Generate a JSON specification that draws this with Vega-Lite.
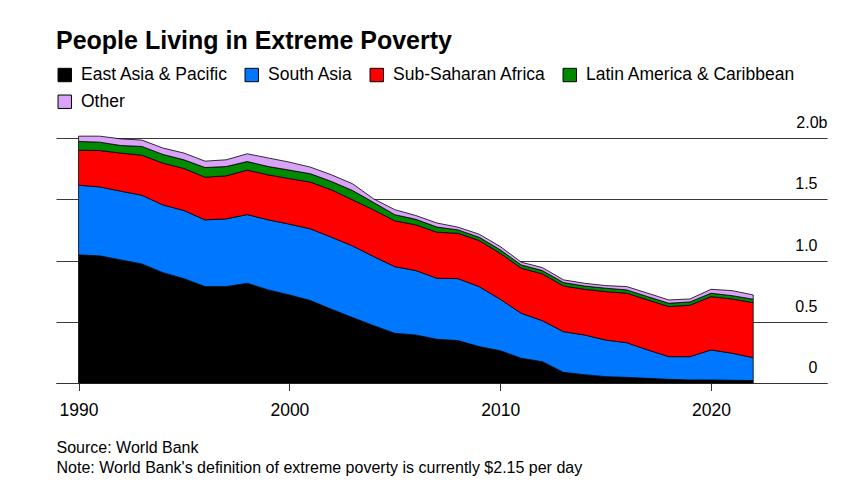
{
  "$schema": "https://vega.github.io/schema/vega-lite/v6.json",
  "autosize": {"type": "none"},
  "width": 771,
  "height": 245,
  "padding": {"left": 56, "top": 138, "right": 40, "bottom": 110},
  "background": "white",
  "config": {
    "font": "Liberation Sans",
    "view": {"stroke": null}
  },
  "title": {
    "text": "People Living in Extreme Poverty",
    "anchor": "start",
    "frame": "group",
    "font": "Liberation Sans",
    "fontSize": 25,
    "fontWeight": "bold",
    "color": "#000000",
    "offset": 0,
    "dy": -12
  },
  "data": {
    "values": [
      {"year": 1990, "East Asia & Pacific": 1.046, "South Asia": 0.569, "Sub-Saharan Africa": 0.286, "Latin America & Caribbean": 0.071, "Other": 0.043},
      {"year": 1991, "East Asia & Pacific": 1.038, "South Asia": 0.563, "Sub-Saharan Africa": 0.297, "Latin America & Caribbean": 0.068, "Other": 0.049},
      {"year": 1992, "East Asia & Pacific": 1.005, "South Asia": 0.561, "Sub-Saharan Africa": 0.311, "Latin America & Caribbean": 0.062, "Other": 0.054},
      {"year": 1993, "East Asia & Pacific": 0.972, "South Asia": 0.561, "Sub-Saharan Africa": 0.327, "Latin America & Caribbean": 0.071, "Other": 0.052},
      {"year": 1994, "East Asia & Pacific": 0.901, "South Asia": 0.553, "Sub-Saharan Africa": 0.341, "Latin America & Caribbean": 0.071, "Other": 0.052},
      {"year": 1995, "East Asia & Pacific": 0.852, "South Asia": 0.556, "Sub-Saharan Africa": 0.343, "Latin America & Caribbean": 0.071, "Other": 0.055},
      {"year": 1996, "East Asia & Pacific": 0.787, "South Asia": 0.545, "Sub-Saharan Africa": 0.348, "Latin America & Caribbean": 0.079, "Other": 0.052},
      {"year": 1997, "East Asia & Pacific": 0.787, "South Asia": 0.553, "Sub-Saharan Africa": 0.351, "Latin America & Caribbean": 0.076, "Other": 0.055},
      {"year": 1998, "East Asia & Pacific": 0.814, "South Asia": 0.561, "Sub-Saharan Africa": 0.363, "Latin America & Caribbean": 0.070, "Other": 0.063},
      {"year": 1999, "East Asia & Pacific": 0.760, "South Asia": 0.572, "Sub-Saharan Africa": 0.367, "Latin America & Caribbean": 0.068, "Other": 0.070},
      {"year": 2000, "East Asia & Pacific": 0.719, "South Asia": 0.578, "Sub-Saharan Africa": 0.372, "Latin America & Caribbean": 0.069, "Other": 0.065},
      {"year": 2001, "East Asia & Pacific": 0.673, "South Asia": 0.585, "Sub-Saharan Africa": 0.382, "Latin America & Caribbean": 0.068, "Other": 0.054},
      {"year": 2002, "East Asia & Pacific": 0.602, "South Asia": 0.588, "Sub-Saharan Africa": 0.387, "Latin America & Caribbean": 0.068, "Other": 0.054},
      {"year": 2003, "East Asia & Pacific": 0.534, "South Asia": 0.585, "Sub-Saharan Africa": 0.376, "Latin America & Caribbean": 0.076, "Other": 0.055},
      {"year": 2004, "East Asia & Pacific": 0.468, "South Asia": 0.564, "Sub-Saharan Africa": 0.381, "Latin America & Caribbean": 0.060, "Other": 0.030},
      {"year": 2005, "East Asia & Pacific": 0.406, "South Asia": 0.544, "Sub-Saharan Africa": 0.374, "Latin America & Caribbean": 0.050, "Other": 0.041},
      {"year": 2006, "East Asia & Pacific": 0.392, "South Asia": 0.526, "Sub-Saharan Africa": 0.373, "Latin America & Caribbean": 0.045, "Other": 0.031},
      {"year": 2007, "East Asia & Pacific": 0.357, "South Asia": 0.498, "Sub-Saharan Africa": 0.376, "Latin America & Caribbean": 0.042, "Other": 0.033},
      {"year": 2008, "East Asia & Pacific": 0.346, "South Asia": 0.506, "Sub-Saharan Africa": 0.370, "Latin America & Caribbean": 0.028, "Other": 0.022},
      {"year": 2009, "East Asia & Pacific": 0.297, "South Asia": 0.490, "Sub-Saharan Africa": 0.376, "Latin America & Caribbean": 0.027, "Other": 0.025},
      {"year": 2010, "East Asia & Pacific": 0.264, "South Asia": 0.420, "Sub-Saharan Africa": 0.375, "Latin America & Caribbean": 0.028, "Other": 0.027},
      {"year": 2011, "East Asia & Pacific": 0.202, "South Asia": 0.367, "Sub-Saharan Africa": 0.368, "Latin America & Caribbean": 0.027, "Other": 0.022},
      {"year": 2012, "East Asia & Pacific": 0.174, "South Asia": 0.335, "Sub-Saharan Africa": 0.382, "Latin America & Caribbean": 0.027, "Other": 0.024},
      {"year": 2013, "East Asia & Pacific": 0.087, "South Asia": 0.332, "Sub-Saharan Africa": 0.373, "Latin America & Caribbean": 0.028, "Other": 0.022},
      {"year": 2014, "East Asia & Pacific": 0.068, "South Asia": 0.324, "Sub-Saharan Africa": 0.373, "Latin America & Caribbean": 0.027, "Other": 0.022},
      {"year": 2015, "East Asia & Pacific": 0.052, "South Asia": 0.299, "Sub-Saharan Africa": 0.395, "Latin America & Caribbean": 0.028, "Other": 0.021},
      {"year": 2016, "East Asia & Pacific": 0.046, "South Asia": 0.283, "Sub-Saharan Africa": 0.404, "Latin America & Caribbean": 0.027, "Other": 0.027},
      {"year": 2017, "East Asia & Pacific": 0.038, "South Asia": 0.232, "Sub-Saharan Africa": 0.408, "Latin America & Caribbean": 0.027, "Other": 0.028},
      {"year": 2018, "East Asia & Pacific": 0.030, "South Asia": 0.185, "Sub-Saharan Africa": 0.409, "Latin America & Caribbean": 0.027, "Other": 0.027},
      {"year": 2019, "East Asia & Pacific": 0.025, "South Asia": 0.190, "Sub-Saharan Africa": 0.420, "Latin America & Caribbean": 0.027, "Other": 0.024},
      {"year": 2020, "East Asia & Pacific": 0.025, "South Asia": 0.245, "Sub-Saharan Africa": 0.435, "Latin America & Caribbean": 0.028, "Other": 0.032},
      {"year": 2021, "East Asia & Pacific": 0.022, "South Asia": 0.221, "Sub-Saharan Africa": 0.443, "Latin America & Caribbean": 0.027, "Other": 0.041},
      {"year": 2022, "East Asia & Pacific": 0.020, "South Asia": 0.187, "Sub-Saharan Africa": 0.449, "Latin America & Caribbean": 0.028, "Other": 0.035}
    ]
  },
  "transform": [
    {"fold": ["East Asia & Pacific", "South Asia", "Sub-Saharan Africa", "Latin America & Caribbean", "Other"], "as": ["region", "people"]},
    {"calculate": "indexof(['East Asia & Pacific', 'South Asia', 'Sub-Saharan Africa', 'Latin America & Caribbean', 'Other'], datum.region)", "as": "stackOrder"}
  ],
  "mark": {"type": "area", "stroke": "#000000", "strokeWidth": 0.8, "opacity": 1, "interpolate": "linear"},
  "encoding": {
    "x": {
      "field": "year",
      "type": "quantitative",
      "scale": {"domain": [1988.93, 2025.5], "nice": false, "zero": false},
      "axis": {
        "values": [1990, 2000, 2010, 2020],
        "format": "d",
        "grid": false,
        "domainColor": "#333333",
        "domainWidth": 1,
        "tickColor": "#333333",
        "tickSize": 7.5,
        "tickWidth": 1,
        "labelFont": "Liberation Sans",
        "labelFontSize": 17.5,
        "labelColor": "#000000",
        "labelPadding": 10.5,
        "labelFlush": false,
        "title": ["Source: World Bank", "Note: World Bank's definition of extreme poverty is currently $2.15 per day"],
        "titleFont": "Liberation Sans",
        "titleFontSize": 16,
        "titleFontWeight": "normal",
        "titleColor": "#000000",
        "titleLineHeight": 20,
        "titleAlign": "left",
        "titleAnchor": "start",
        "titleBaseline": "alphabetic",
        "titleX": 0,
        "titleY": 69
      }
    },
    "y": {
      "field": "people",
      "type": "quantitative",
      "stack": "zero",
      "scale": {"domain": [0, 2], "nice": false},
      "axis": {
        "orient": "right",
        "values": [0, 0.5, 1, 1.5, 2],
        "labelExpr": "datum.value == 2 ? '2.0b' : datum.value == 0 ? '0' : format(datum.value, '.1f')",
        "domain": false,
        "ticks": false,
        "grid": true,
        "gridColor": "#3a3a3a",
        "gridWidth": 1,
        "labelFont": "Liberation Sans",
        "labelFontSize": 16,
        "labelColor": "#000000",
        "labelAlign": "right",
        "labelBaseline": "alphabetic",
        "labelPadding": {"condition": {"test": "datum.value == 2", "value": 0}, "value": -10},
        "labelOffset": -10.5,
        "title": null
      }
    },
    "order": {"field": "stackOrder", "type": "quantitative", "sort": "ascending"},
    "color": {
      "field": "region",
      "type": "nominal",
      "sort": ["East Asia & Pacific", "South Asia", "Sub-Saharan Africa", "Latin America & Caribbean", "Other"],
      "scale": {
        "domain": ["East Asia & Pacific", "South Asia", "Sub-Saharan Africa", "Latin America & Caribbean", "Other"],
        "range": ["#000000", "#0077ff", "#ff0000", "#008a00", "#d9a3f7"]
      },
      "legend": {
        "orient": "none",
        "legendX": 0,
        "legendY": -72,
        "direction": "horizontal",
        "columns": 4,
        "title": null,
        "padding": 0,
        "symbolType": "square",
        "symbolSize": 180,
        "symbolStrokeColor": "#000000",
        "symbolStrokeWidth": 1,
        "symbolOpacity": 1,
        "labelFont": "Liberation Sans",
        "labelFontSize": 17.5,
        "labelColor": "#000000",
        "labelOffset": 7.5,
        "labelLimit": 400,
        "columnPadding": 15,
        "rowPadding": 8
      }
    }
  }
}
